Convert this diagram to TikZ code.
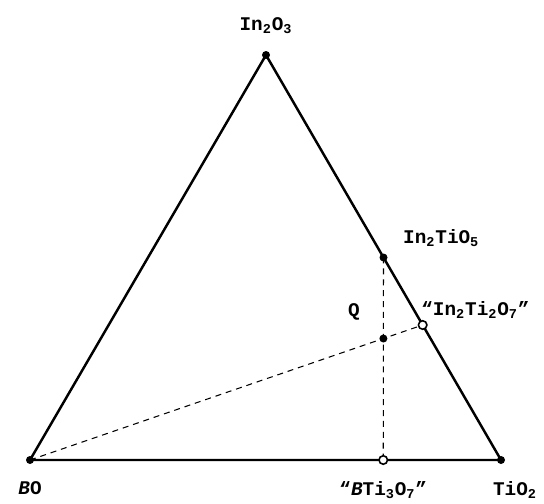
\documentclass[tikz,border=0pt]{standalone}
\usepackage{fontspec}
\setmainfont{Liberation Mono}
\usetikzlibrary{positioning, calc}
\newcommand{\chsub}[1]{\textsubscript{#1}}

\begin{document}
\begin{tikzpicture}[every node/.style={font=\fontsize{11}{13}\selectfont\bfseries},
  side/.style={line width=1.4pt, line join=round},
  tie/.style={line width=0.6pt, dash pattern=on 3.4pt off 2.8pt},
  dot/.style={circle, fill=black, inner sep=0pt, minimum size=0.16cm},
  hole/.style={circle, draw=black, fill=white, line width=0.9pt, inner sep=0pt, minimum size=0.17cm}]
\useasboundingbox (0,0) rectangle (10.88,10.06);

% Corners
\coordinate (bo) at (0.6,0.86);
\coordinate (tio2) at (10.02,0.86);
\coordinate (in2o3) at (5.32,8.96);

% Compositions
\coordinate (in2tio5) at ($(tio2)!0.5!(in2o3)$);
\coordinate (in2ti2o7) at ($(tio2)!1/3!(in2o3)$);
\coordinate (bti3o7) at ($(bo)!0.75!(tio2)$);
\coordinate (q) at (intersection of bo--in2ti2o7 and in2tio5--bti3o7);

% Tie lines
\draw[tie] (bo) -- (in2ti2o7);
\draw[tie] (in2tio5) -- (bti3o7);

% Triangle
\draw[side] (bo) -- (tio2) -- (in2o3) -- cycle;

% Points
\node[dot] (p bo) at (bo) {};
\node[dot] (p tio2) at (tio2) {};
\node[dot] (p in2o3) at (in2o3) {};
\node[dot] (p in2tio5) at (in2tio5) {};
\node[dot] (p q) at (q) {};
\node[hole] (p in2ti2o7) at (in2ti2o7) {};
\node[hole] (p bti3o7) at (bti3o7) {};

% Labels
\node[above=0.3cm of in2o3] (l in2o3) {In\chsub{2}O\chsub{3}};
\node[above right=0.1cm and 0.27cm of in2tio5] (l in2tio5) {In\chsub{2}TiO\chsub{5}};
\node[above left=0.24cm and 0.35cm of q] (l q) {Q};
\node[above right=0cm and -0.15cm of in2ti2o7] (l in2ti2o7) {“In\chsub{2}Ti\chsub{2}O\chsub{7}”};
\node[below=0.3cm of bo] (l bo) {\textit{B}O};
\node[below=0.3cm of bti3o7] (l bti3o7) {“\textit{B}Ti\chsub{3}O\chsub{7}”};
\node[below=0.3cm of tio2, xshift=0.28cm] (l tio2) {TiO\chsub{2}};
\end{tikzpicture}
\end{document}
